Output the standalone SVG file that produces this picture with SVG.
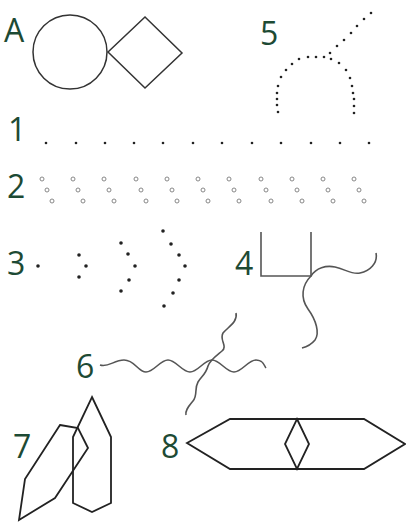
<svg xmlns="http://www.w3.org/2000/svg" width="406" height="523" viewBox="0 0 406 523">
<style>
.lbl{font-family:"Open Sans","Liberation Sans",sans-serif;font-size:32px;fill:#1d4a34}
.ln{fill:none;stroke:#333;stroke-width:1.5}
.dk{fill:none;stroke:#222;stroke-width:1.8;stroke-linejoin:miter}
.gr{fill:none;stroke:#555;stroke-width:1.6}
.d{fill:#222}
.o{fill:none;stroke:#888;stroke-width:1}
</style>
<rect width="406" height="523" fill="#fff"/>
<g id="nodeA">
<text class="lbl" x="4" y="42">A</text>
<circle class="ln" cx="70" cy="52" r="37"/>
<polygon class="ln" points="108,52 145,17 182,53 145,88"/>
</g>
<g id="node5">
<text class="lbl" x="260" y="45">5</text>
<g class="d">
<circle cx="371" cy="13" r="1.3"/><circle cx="364" cy="19" r="1.3"/><circle cx="357" cy="26" r="1.3"/><circle cx="351" cy="33" r="1.3"/><circle cx="344" cy="40" r="1.3"/><circle cx="337" cy="46" r="1.3"/><circle cx="330" cy="53" r="1.3"/><circle cx="324" cy="57" r="1.3"/><circle cx="316" cy="57" r="1.3"/><circle cx="308" cy="57" r="1.3"/><circle cx="299" cy="59" r="1.3"/><circle cx="292" cy="64" r="1.3"/><circle cx="286" cy="70" r="1.3"/><circle cx="281" cy="77" r="1.3"/><circle cx="278" cy="86" r="1.3"/><circle cx="277" cy="93" r="1.3"/><circle cx="277" cy="99" r="1.3"/><circle cx="277" cy="105" r="1.3"/><circle cx="278" cy="112" r="1.3"/>
<circle cx="331" cy="59" r="1.3"/><circle cx="339" cy="63" r="1.3"/><circle cx="346" cy="70" r="1.3"/><circle cx="350" cy="78" r="1.3"/><circle cx="352" cy="86" r="1.3"/><circle cx="353" cy="93" r="1.3"/><circle cx="354" cy="99" r="1.3"/><circle cx="354" cy="106" r="1.3"/><circle cx="354" cy="113" r="1.3"/>
</g>
</g>
<g id="node1">
<text class="lbl" x="8" y="141">1</text>
<g class="d">
<circle cx="46" cy="143" r="1.3"/><circle cx="76" cy="143" r="1.3"/><circle cx="105" cy="143" r="1.3"/><circle cx="134" cy="143" r="1.3"/><circle cx="163" cy="143" r="1.3"/><circle cx="193" cy="143" r="1.3"/><circle cx="222" cy="143" r="1.3"/><circle cx="252" cy="143" r="1.3"/><circle cx="281" cy="143" r="1.3"/><circle cx="311" cy="143" r="1.3"/><circle cx="340" cy="143" r="1.3"/><circle cx="369" cy="143" r="1.3"/>
</g>
</g>
<g id="node2">
<text class="lbl" x="7" y="198">2</text>
<defs><g id="trip"><circle class="o" cx="0" cy="179" r="2"/><circle class="o" cx="5" cy="190" r="2"/><circle class="o" cx="10" cy="201" r="2"/></g></defs>
<use href="#trip" x="42"/><use href="#trip" x="73"/><use href="#trip" x="104"/><use href="#trip" x="136"/><use href="#trip" x="167"/><use href="#trip" x="198"/><use href="#trip" x="229"/><use href="#trip" x="261"/><use href="#trip" x="292"/><use href="#trip" x="323"/><use href="#trip" x="354"/>
</g>
<g id="node3">
<text class="lbl" x="7" y="275">3</text>
<g class="d">
<circle cx="38" cy="266" r="1.8"/>
<circle cx="79" cy="255" r="1.8"/><circle cx="86" cy="266" r="1.8"/><circle cx="79" cy="277" r="1.8"/>
<circle cx="121" cy="243" r="1.8"/><circle cx="128" cy="254" r="1.8"/><circle cx="135" cy="266" r="1.8"/><circle cx="129" cy="280" r="1.8"/><circle cx="121" cy="291" r="1.8"/>
<circle cx="163" cy="231" r="1.8"/><circle cx="171" cy="244" r="1.8"/><circle cx="179" cy="255" r="1.8"/><circle cx="185" cy="266" r="1.8"/><circle cx="179" cy="280" r="1.8"/><circle cx="173" cy="293" r="1.8"/><circle cx="164" cy="306" r="1.8"/>
</g>
</g>
<g id="node4">
<text class="lbl" x="235" y="275">4</text>
<polyline class="gr" points="261,232 261,276 311,276 311,232"/>
<path class="gr" d="M311,276 C316,268 326,265 335,267 C345,269 352,275 360,273 C370,271 378,263 376,253"/>
<path class="gr" d="M311,276 C302,285 300,298 308,309 C316,320 320,333 315,340 C311,345 306,347 302,348"/>
</g>
<g id="node6">
<text class="lbl" x="76" y="378">6</text>
<path class="gr" d="M100,365 C108,368 114,360 124,360 C135,360 138,372 146,372 S160,360 168,360 S182,372 190,372 S204,360 212,360 S226,372 234,372 S248,360 256,360 S264,366 266,368"/>
<path class="gr" d="M236,313 C238,322 228,327 223,333 C219,340 228,346 222,351 C216,356 210,360 208,366 C206,374 201,377 198,382 C194,389 198,395 193,401 C189,406 185,410 186,415"/>
</g>
<g id="node7">
<text class="lbl" x="13" y="458">7</text>
<polygon class="dk" points="92,397 111,437 111,503 92,512 73,503 73,437"/>
<polygon class="dk" points="60,425 78,428 88,448 55,498 19,520 25,479"/>
</g>
<g id="node8">
<text class="lbl" x="161" y="458">8</text>
<polygon class="dk" points="187,443 230,419 364,419 405,444 364,469 230,469"/>
<polygon class="dk" points="297,419 309,444 297,469 285,444"/>
</g>
</svg>
